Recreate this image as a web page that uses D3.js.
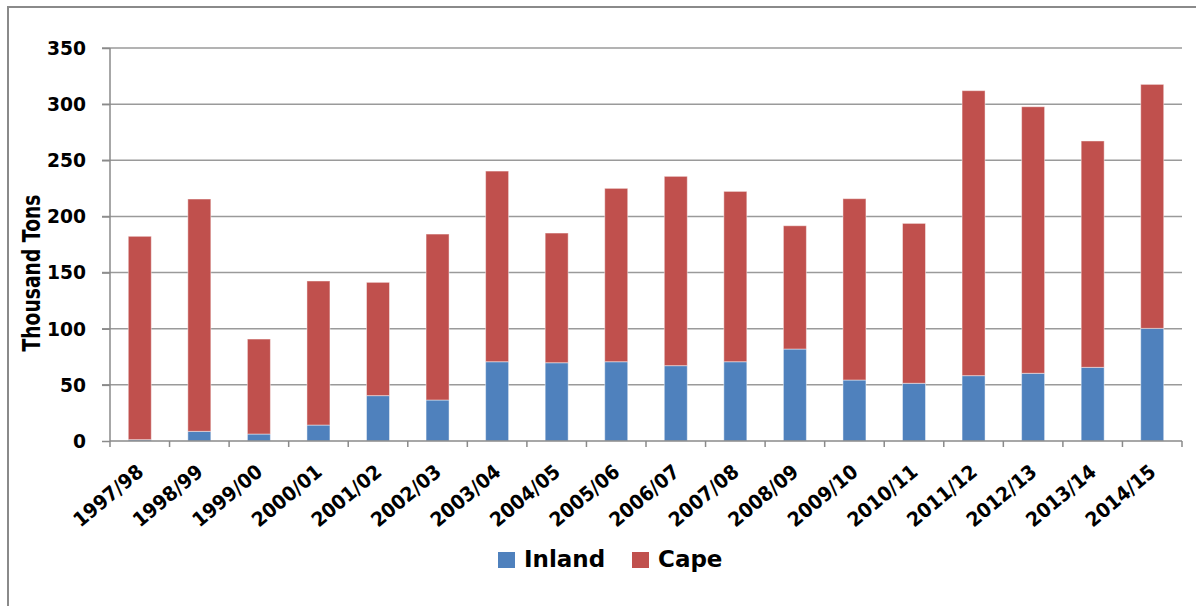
<!DOCTYPE html>
<html>
<head>
<meta charset="utf-8">
<script src="https://cdn.jsdelivr.net/npm/d3@7"></script>
<style>
  html, body { margin: 0; padding: 0; background: #fff; }
  svg { display: block; }
  text { font-family: "DejaVu Sans", Verdana, sans-serif; font-weight: bold; fill: #000; }
</style>
</head>
<body>
<svg id="chart" width="1196" height="606"></svg>
<script>
const categories = ["1997/98","1998/99","1999/00","2000/01","2001/02","2002/03","2003/04","2004/05","2005/06","2006/07","2007/08","2008/09","2009/10","2010/11","2011/12","2012/13","2013/14","2014/15"];
const inland = [1.2, 8.6, 6.2, 14.2, 40.4, 36.5, 70.6, 69.7, 70.6, 67.1, 70.6, 81.9, 54.3, 51.4, 58.2, 60.3, 65.6, 100.3];
const cape = [181.1, 206.9, 84.6, 128.3, 100.9, 147.8, 169.8, 115.5, 154.4, 168.6, 151.7, 109.8, 161.5, 142.4, 253.8, 237.4, 201.6, 217.3];
const yTicks = [0, 50, 100, 150, 200, 250, 300, 350];
const seriesNames = ["Inland", "Cape"];
const seriesColors = ["#4F81BD", "#C0504D"];
const yTitle = "Thousand Tons";

(function () {
const svg = d3.select("#chart");

// outer chart border (left and top visible)
svg.append("rect")
  .attr("x", 8).attr("y", 7).attr("width", 1300).attr("height", 700)
  .attr("fill", "none").attr("stroke", "#8a8a8a").attr("stroke-width", 2);

const pLeft = 110, pRight = 1182, pTop = 48, pBottom = 441;

const x = d3.scaleBand().domain(categories).range([pLeft, pRight])
  .paddingInner(0.614).paddingOuter(0.307);
const y = d3.scaleLinear().domain([0, 350]).range([pBottom, pTop]);

// gridlines
svg.append("g").selectAll("line").data(yTicks.filter(d => d > 0)).join("line")
  .attr("x1", pLeft - 8).attr("x2", pRight)
  .attr("y1", d => y(d)).attr("y2", d => y(d))
  .attr("stroke", "#9a9a9a").attr("stroke-width", 1.5);

// y axis
const yAxis = d3.axisLeft(y).tickValues(yTicks).tickSize(8).tickPadding(16);
const gy = svg.append("g").attr("transform", `translate(${pLeft},0)`).call(yAxis);
gy.select(".domain").attr("stroke", "#8a8a8a").attr("stroke-width", 1.5).attr("d", `M0,${pTop}V${pBottom}`);
gy.selectAll(".tick line").attr("stroke", "#8a8a8a").attr("stroke-width", 1.5);
gy.selectAll(".tick text").style("font-size", "20px").style("font-family", "DejaVu Sans").style("font-weight", "bold").attr("fill", "#000")
  .attr("textLength", 39).attr("lengthAdjust", "spacingAndGlyphs")
  .each(function (d) { if (String(d).length === 2) d3.select(this).attr("textLength", 26); if (String(d).length === 1) d3.select(this).attr("textLength", 13); });

// stacked data
const stackData = categories.map((c, i) => ({cat: c, Inland: inland[i], Cape: cape[i]}));
const stacked = d3.stack().keys(seriesNames)(stackData);

svg.append("g").selectAll("g").data(stacked).join("g")
  .attr("fill", (d, i) => seriesColors[i])
  .selectAll("rect").data(d => d).join("rect")
  .attr("x", d => x(d.data.cat))
  .attr("width", x.bandwidth())
  .attr("y", d => y(d[1]))
  .attr("height", d => y(d[0]) - y(d[1]))
  .attr("stroke", "#ffffff").attr("stroke-opacity", 0.45).attr("stroke-width", 1);

// x axis line and ticks at category boundaries
const step = x.step();
const boundaries = d3.range(categories.length + 1).map(i => pLeft + i * step);
svg.append("line").attr("x1", pLeft).attr("x2", pRight).attr("y1", pBottom).attr("y2", pBottom)
  .attr("stroke", "#8a8a8a").attr("stroke-width", 1.5);
svg.append("g").selectAll("line").data(boundaries).join("line")
  .attr("x1", d => d).attr("x2", d => d).attr("y1", pBottom).attr("y2", pBottom + 6)
  .attr("stroke", "#8a8a8a").attr("stroke-width", 1.5);

// x labels
svg.append("g").selectAll("text").data(categories).join("text")
  .attr("transform", d => `translate(${x(d) + x.bandwidth() / 2 + 5},${pBottom + 33}) rotate(-40)`)
  .attr("text-anchor", "end")
  .attr("textLength", 84).attr("lengthAdjust", "spacingAndGlyphs")
  .style("font-size", "20px")
  .text(d => d);

// y title
svg.append("text")
  .attr("transform", "translate(40,273) rotate(-90)")
  .attr("text-anchor", "middle")
  .attr("textLength", 157).attr("lengthAdjust", "spacingAndGlyphs")
  .style("font-size", "24px")
  .text(yTitle);

// legend
const legendX = [498, 632];
const lg = svg.append("g").selectAll("g").data(seriesNames).join("g")
  .attr("transform", (d, i) => `translate(${legendX[i]},552)`);
lg.append("rect").attr("width", 17).attr("height", 16).attr("fill", (d, i) => seriesColors[i]);
lg.append("text").attr("x", 26).attr("y", 15).style("font-size", "23px").text(d => d);
})();
</script>
</body>
</html>
